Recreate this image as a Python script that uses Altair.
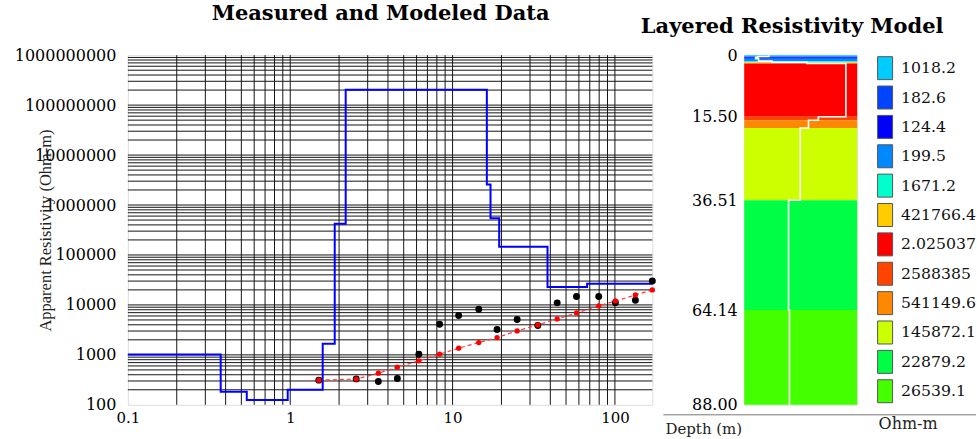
import altair as alt
import pandas as pd

# ---------------- data ----------------
# electrode spacing (m) of the sounding points
spacing = [1.50, 2.55, 3.49, 4.57, 6.20, 8.32, 10.9, 14.5, 18.8, 25.0, 33.5,
           44.1, 58.0, 79.5, 100.7, 133.7, 170.0]
# measured apparent resistivity (black dots)
measured = [312, 330, 292, 336, 1030, 4100, 6120, 8190, 3210, 5090, 3860,
            11000, 14700, 14700, 11100, 12400, 30200]
# modeled apparent resistivity (red dots / dashed line)
modeled = [312, 327, 430, 567, 759, 1032, 1360, 1765, 2220, 3020, 3980,
           5250, 6920, 9550, 12000, 15800, 20000]

# layered model
layer_res = [1018.2, 182.6, 124.4, 199.5, 1671.2, 421766.4, 2.025037e8,
             2588385, 541149.6, 145872.1, 22879.2, 26539.1]
layer_labels = ["1018.2", "182.6", "124.4", "199.5", "1671.2", "421766.4",
                "2.025037", "2588385", "541149.6", "145872.1", "22879.2",
                "26539.1"]
layer_colors = ["#00ccff", "#0044ff", "#0000ff", "#0088ff", "#00ffcc",
                "#ffcc00", "#ff0000", "#ff4400", "#ff8800", "#ccff00",
                "#00ff44", "#44ff00"]
# layer boundaries in the right-hand column (depth, m)
column_depths = [0, 0.35, 0.51, 0.92, 1.51, 1.79, 2.09, 15.50, 16.39, 18.33,
                 36.51, 64.14, 88.00]
# step positions of the model curve in the sounding plot (m)
curve_steps = [0.1, 0.373, 0.540, 0.965, 1.585, 1.88, 2.196, 16.26, 17.13,
               19.37, 38.44, 67.4, 170]

depth_ticks = [0, 15.50, 36.51, 64.14, 88.00]
x_ticks = [0.1, 1, 10, 100]
y_ticks = [100, 1000, 10000, 100000, 1000000, 10000000, 100000000, 1000000000]
grid_mult = [1, 2, 3, 4, 5, 6, 7, 8, 9]

X_DOMAIN = [0.1, 170]
Y_DOMAIN = [100, 1e9]
R_DOMAIN = [20.5, 1.2e9]
D_DOMAIN = [0, 88]

# ---------------- tables built from the arrays ----------------
grid_x = [m * d for d in x_ticks for m in grid_mult if X_DOMAIN[0] < m * d < X_DOMAIN[1]]
grid_y = [m * d for d in y_ticks[:-1] for m in grid_mult if Y_DOMAIN[0] < m * d < Y_DOMAIN[1]]

step_rows, col_rows, layer_rows = [], [], []
for i, r in enumerate(layer_res):
    step_rows.append({"x": curve_steps[i], "y": r, "o": 2 * i})
    step_rows.append({"x": curve_steps[i + 1], "y": r, "o": 2 * i + 1})
    col_rows.append({"r": r, "d": column_depths[i], "o": 2 * i})
    col_rows.append({"r": r, "d": column_depths[i + 1], "o": 2 * i + 1})
    layer_rows.append({"top": column_depths[i], "bottom": column_depths[i + 1],
                       "label": layer_labels[i]})
step_df = pd.DataFrame(step_rows)
col_df = pd.DataFrame(col_rows)
layer_df = pd.DataFrame(layer_rows)
pts_df = pd.DataFrame({"s": spacing, "meas": measured, "mod": modeled})

FONT = "DejaVu Serif"

xs = alt.Scale(type="log", domain=X_DOMAIN, nice=False)
ys = alt.Scale(type="log", domain=Y_DOMAIN, nice=False)
ds = alt.Scale(domain=D_DOMAIN, reverse=True, nice=False, zero=False)
rs = alt.Scale(type="log", domain=R_DOMAIN, nice=False)

ax_x = alt.Axis(
    values=x_ticks, format="~g", title=None, ticks=False, domain=False, grid=False,
    labelFont=FONT, labelFontSize=15, labelColor="black", labelPadding=6,
    labelFlush=False, labelOverlap=False, labelBaseline="top")
ax_y = alt.Axis(
    values=y_ticks, format="d", ticks=False, domain=False, grid=False,
    labelFont=FONT, labelFontSize=16, labelColor="black", labelPadding=12,
    labelOverlap=False, labelFlush=False,
    title="Apparent Resistivity (Ohm-m)", titleFont="Liberation Serif",
    titleFontSize=16.5, titleFontWeight="normal", titleColor="#222",
    titleX=-82, titleY=175, titleAngle=270, titleBaseline="middle",
    titleAlign="center")
ax_d = alt.Axis(
    values=depth_ticks, labelExpr="datum.value == 0 ? '0' : format(datum.value, '.2f')",
    ticks=False, domain=False, grid=False, labelFont=FONT, labelFontSize=16,
    labelColor="black", labelPadding=7, labelOverlap=False, labelFlush=False,
    title="Depth (m)", titleFont=FONT, titleFontSize=15, titleFontWeight="normal",
    titleColor="#222", titleAngle=0, titleX=-41, titleY=374,
    titleAlign="center", titleBaseline="middle")
ax_r = alt.Axis(
    title="Ohm-m", labels=False, ticks=False, domain=False, grid=False,
    titleFont=FONT, titleFontSize=16, titleFontWeight="normal", titleColor="#222",
    titleX=163.5, titleY=19, titleAlign="center", titleBaseline="middle")

# ---------------- left: measured and modeled data ----------------
gx = alt.Chart(pd.DataFrame({"g": grid_x})).mark_rule(color="#151515", strokeWidth=1).encode(
    x=alt.X("g:Q", scale=xs, axis=ax_x))
gy = alt.Chart(pd.DataFrame({"g": grid_y})).mark_rule(color="#151515", strokeWidth=1).encode(
    y=alt.Y("g:Q", scale=ys, axis=ax_y))

step = alt.Chart(step_df).mark_line(color="#0000ff", strokeWidth=2).encode(
    x=alt.X("x:Q", scale=xs, axis=ax_x),
    y=alt.Y("y:Q", scale=ys, axis=ax_y),
    order="o:Q")

model_line = alt.Chart(pts_df).mark_line(color="#ff3a3a", strokeWidth=1.2, strokeDash=[4, 3]).encode(
    x=alt.X("s:Q", scale=xs, axis=ax_x), y=alt.Y("mod:Q", scale=ys, axis=ax_y))
meas_pts = alt.Chart(pts_df).mark_circle(color="black", size=48, opacity=1).encode(
    x=alt.X("s:Q", scale=xs, axis=ax_x), y=alt.Y("meas:Q", scale=ys, axis=ax_y))
mod_pts = alt.Chart(pts_df).mark_circle(color="#ff0000", size=28, opacity=1).encode(
    x=alt.X("s:Q", scale=xs, axis=ax_x), y=alt.Y("mod:Q", scale=ys, axis=ax_y))

left = alt.layer(gx, gy, step, model_line, meas_pts, mod_pts).properties(
    width=525, height=350,
    title=alt.TitleParams("Measured and Modeled Data", font=FONT, fontSize=21,
                          fontWeight="bold", color="black", anchor="middle",
                          dx=-9.5, dy=-6.5, offset=0, baseline="alphabetic",
                          frame="group"))

# ---------------- right: layered resistivity model ----------------
rect_path = "M-0.652,-1H0.652V1H-0.652Z"
rects = alt.Chart(layer_df).mark_rect().encode(
    x=alt.value(0), x2=alt.value("width"),
    y=alt.Y("top:Q", scale=ds, axis=ax_d),
    y2="bottom:Q",
    color=alt.Color("label:N", scale=alt.Scale(domain=layer_labels, range=layer_colors),
                    legend=alt.Legend(
                        title=None, orient="none", legendX=746, legendY=1,
                        symbolType=rect_path, symbolSize=529, symbolStrokeColor="#555",
                        symbolStrokeWidth=1, symbolOpacity=1, labelFont=FONT,
                        labelFontSize=15.7, labelColor="#111", labelOffset=4,
                        rowPadding=1.4, padding=0)))

white = alt.Chart(col_df).mark_line(color="white", strokeWidth=1.6).encode(
    x=alt.X("r:Q", scale=rs, axis=ax_r),
    y=alt.Y("d:Q", scale=ds, axis=ax_d),
    order="o:Q")

sep = alt.Chart(pd.DataFrame({"a": [0]})).mark_rule(color="#777", strokeWidth=1).encode(
    x=alt.value(-81), x2=alt.value(232), y=alt.value(360))

right = alt.layer(rects, white, sep).properties(
    width=113, height=350,
    title=alt.TitleParams("Layered Resistivity Model", font=FONT, fontSize=21,
                          fontWeight="bold", color="black", anchor="middle",
                          dx=-8.5, dy=7, offset=0, baseline="alphabetic",
                          frame="group"))

chart = alt.hconcat(left, right, spacing=92, bounds="flush").properties(
    padding={"left": 13, "top": 2, "right": 0, "bottom": 0}
).configure_view(stroke="black", strokeWidth=1).configure(font=FONT)

chart.save("out.html", embed_options={"renderer": "svg", "actions": False})
